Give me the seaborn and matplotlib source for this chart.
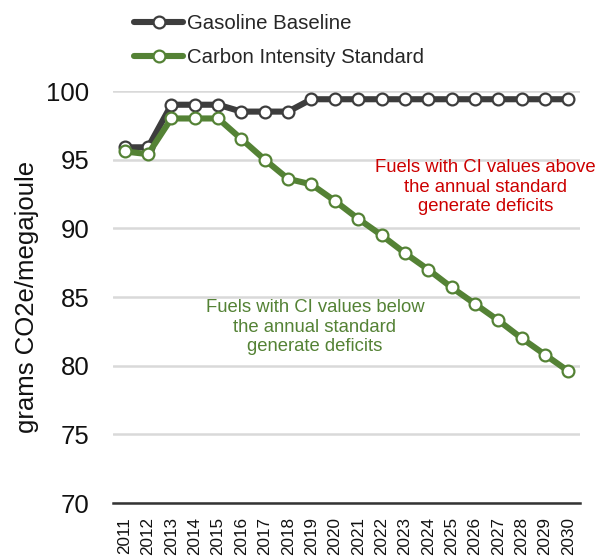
import matplotlib
matplotlib.use("Agg")
import matplotlib.pyplot as plt
import seaborn as sns
import pandas as pd
from matplotlib.lines import Line2D

years = [str(y) for y in range(2011, 2031)]
gasoline = [95.9, 95.9, 99.0, 99.0, 99.0, 98.5, 98.5, 98.5, 99.4, 99.4,
            99.4, 99.4, 99.4, 99.4, 99.4, 99.4, 99.4, 99.4, 99.4, 99.4]
cis = [95.6, 95.4, 98.0, 98.0, 98.0, 96.5, 95.0, 93.6, 93.2, 92.0,
       90.7, 89.5, 88.2, 87.0, 85.7, 84.5, 83.3, 82.0, 80.8, 79.6]
series_names = ["Gasoline Baseline", "Carbon Intensity Standard"]
colors = ["#3D3D3D", "#548235"]
yticks = [70, 75, 80, 85, 90, 95, 100]

df = pd.DataFrame({
    "year": years * 2,
    "value": gasoline + cis,
    "series": [series_names[0]] * len(years) + [series_names[1]] * len(years),
})

sns.set_theme(style="white")
plt.rcParams["font.family"] = ["Liberation Sans", "DejaVu Sans"]

fig = plt.figure(figsize=(6.04, 5.57), dpi=100)
ax = fig.add_axes([113 / 604, 1 - 503 / 557, (580 - 113) / 604, (503 - 91) / 557])

sns.lineplot(data=df, x="year", y="value", hue="series", hue_order=series_names,
             palette=colors, ax=ax, linewidth=4.4, marker="o", markersize=8.5,
             markerfacecolor="white", markeredgewidth=1.6, legend=False,
             sort=False, clip_on=False)
for line, c in zip(ax.get_lines(), colors):
    line.set_markeredgecolor(c)

ax.set_ylim(70, 100)
ax.set_xlim(-0.5, len(years) - 0.5)
ax.set_yticks(yticks)
ax.set_yticklabels([str(t) for t in yticks], fontsize=18.5, color="#111111")
ax.set_xticks(range(len(years)))
ax.set_xticklabels(years, rotation=90, fontsize=12.3, color="#111111")
ax.tick_params(axis="y", length=0, pad=17)
ax.tick_params(axis="x", length=0, pad=10)
ax.grid(axis="y", color="#D9D9D9", linewidth=1.8)
ax.grid(axis="x", visible=False)
ax.set_axisbelow(True)
for s in ["top", "right", "left"]:
    ax.spines[s].set_visible(False)
ax.spines["bottom"].set_color("#333333")
ax.spines["bottom"].set_linewidth(1.8)
ax.set_xlabel("")
ax.set_ylabel("grams CO2e/megajoule", fontsize=18.5, color="#111111", labelpad=5)

ax.text(15.45, 93.0, "Fuels with CI values above\nthe annual standard\ngenerate deficits",
        ha="center", va="center", fontsize=13.3, color="#CC0000", linespacing=1.2)
ax.text(8.15, 82.8, "Fuels with CI values below\nthe annual standard\ngenerate deficits",
        ha="center", va="center", fontsize=13.3, color="#548235", linespacing=1.2)

handles = [Line2D([0], [0], color=c, linewidth=4.4, marker="o", markersize=8.5,
                  markerfacecolor="white", markeredgecolor=c, markeredgewidth=1.6)
           for c in colors]
fig.legend(handles, series_names, loc="upper left", bbox_to_anchor=(134 / 604, 0.974),
           frameon=False, fontsize=14.7, handlelength=2.4, handletextpad=0.2,
           labelspacing=0.7, borderpad=0, borderaxespad=0)

fig.savefig("out.png", dpi=100)
